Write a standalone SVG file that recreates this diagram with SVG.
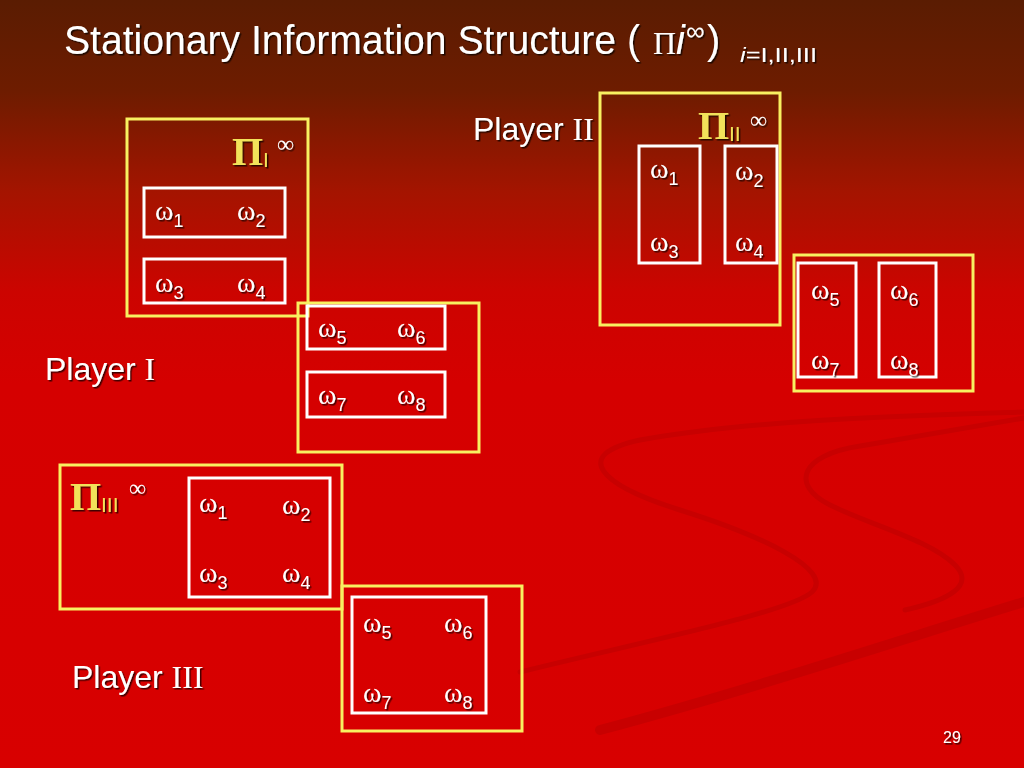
<svg xmlns="http://www.w3.org/2000/svg" width="1024" height="768" viewBox="0 0 1024 768">
<defs>
<linearGradient id="bg" x1="0" y1="0" x2="0" y2="1">
<stop offset="0" stop-color="#5a1c02"/>
<stop offset="0.12" stop-color="#6e1c00"/>
<stop offset="0.25" stop-color="#a41400"/>
<stop offset="0.38" stop-color="#cc0400"/>
<stop offset="0.5" stop-color="#d50000"/>
<stop offset="1" stop-color="#d80000"/>
</linearGradient>
<filter id="sh" x="-20%" y="-20%" width="140%" height="160%">
<feDropShadow dx="1.5" dy="1.5" stdDeviation="0.6" flood-color="#000" flood-opacity="0.7"/>
</filter>
</defs>
<style>
.t{font-family:"Liberation Sans",Arial,sans-serif;fill:#fff;filter:url(#sh)}
.s{font-family:"Liberation Serif","Times New Roman",serif;fill:#fff;filter:url(#sh)}
.w{font-family:"Liberation Serif","Times New Roman",serif;font-size:28px;fill:#fff;filter:url(#sh)}
.d{font-family:"Liberation Sans",Arial,sans-serif;font-size:18px}
.pi{font-family:"Liberation Serif","Times New Roman",serif;font-size:40px;font-weight:bold;fill:#f2e25a;filter:url(#sh)}
.pis{font-family:"Liberation Sans",Arial,sans-serif;font-size:21px;fill:#f2e25a;filter:url(#sh)}
.inf{font-family:"Liberation Serif","Times New Roman",serif;font-size:24px;fill:#fff;filter:url(#sh)}
.y{fill:none;stroke:#f8f060;stroke-width:3}
.wb{fill:none;stroke:#ffffff;stroke-width:3}
.sw{fill:none;stroke:#c80000;stroke-linecap:round}
</style>
<rect x="0" y="0" width="1024" height="768" fill="url(#bg)"/>
<g id="swirl">
<path class="sw" stroke-width="5" d="M 520 672 C 650 640 790 612 812 592 C 835 570 760 535 680 510 C 600 485 570 455 640 440 C 750 420 900 416 1024 412"/>
<path class="sw" stroke-width="5" d="M 905 610 C 950 600 975 585 955 565 C 930 540 870 525 830 505 C 790 485 800 455 860 446 C 920 436 980 425 1024 418"/>
<path class="sw" stroke="#c00000" stroke-width="10" d="M 600 730 C 750 690 900 640 1024 602"/>
</g>
<g id="title">
<text class="t" x="64" y="54" font-size="40" textLength="576" lengthAdjust="spacingAndGlyphs">Stationary Information Structure (</text>
<text class="s" x="653" y="54" font-size="32">Π</text>
<text class="t" x="676" y="54" font-size="40" font-style="italic">i</text>
<text class="t" x="686" y="40" font-size="26">∞</text>
<text class="t" x="707" y="54" font-size="40">)</text>
<text class="t" x="740" y="62" font-size="20" textLength="77" lengthAdjust="spacingAndGlyphs"><tspan font-style="italic">i</tspan>=I,II,III</text>
</g>
<g id="connectors"/>
<g id="player1">
<text class="t" x="45" y="380" font-size="32">Player <tspan font-family="Liberation Serif, Times New Roman, serif">I</tspan></text>
<g id="p1-partition1">
<rect class="y" x="127" y="119" width="181" height="197"/>
<text class="pi" x="232" y="165">Π</text>
<text class="pis" x="263" y="167">I</text>
<text class="inf" x="277" y="152">∞</text>
<g id="p1-cell12">
<rect class="wb" x="144" y="188" width="141" height="49"/>
<text class="w" x="155" y="220">ω<tspan class="d" dy="7">1</tspan></text>
<text class="w" x="237" y="220">ω<tspan class="d" dy="7">2</tspan></text>
</g>
<g id="p1-cell34">
<rect class="wb" x="144" y="259" width="141" height="44"/>
<text class="w" x="155" y="292">ω<tspan class="d" dy="7">3</tspan></text>
<text class="w" x="237" y="292">ω<tspan class="d" dy="7">4</tspan></text>
</g>
</g>
<g id="p1-partition2">
<rect class="y" x="298" y="303" width="181" height="149"/>
<g id="p1-cell56">
<rect class="wb" x="307" y="306" width="138" height="43"/>
<text class="w" x="318" y="337">ω<tspan class="d" dy="7">5</tspan></text>
<text class="w" x="397" y="337">ω<tspan class="d" dy="7">6</tspan></text>
</g>
<g id="p1-cell78">
<rect class="wb" x="307" y="372" width="138" height="45"/>
<text class="w" x="318" y="404">ω<tspan class="d" dy="7">7</tspan></text>
<text class="w" x="397" y="404">ω<tspan class="d" dy="7">8</tspan></text>
</g>
</g>
</g>
<g id="player2">
<text class="t" x="473" y="140" font-size="32">Player <tspan font-family="Liberation Serif, Times New Roman, serif">II</tspan></text>
<g id="p2-partition1">
<rect class="y" x="600" y="93" width="180" height="232"/>
<text class="pi" x="698" y="139">Π</text>
<text class="pis" x="729" y="141">II</text>
<text class="inf" x="750" y="128">∞</text>
<g id="p2-cell13">
<rect class="wb" x="639" y="146" width="61" height="117"/>
<text class="w" x="650" y="178">ω<tspan class="d" dy="7">1</tspan></text>
<text class="w" x="650" y="251">ω<tspan class="d" dy="7">3</tspan></text>
</g>
<g id="p2-cell24">
<rect class="wb" x="725" y="146" width="52" height="117"/>
<text class="w" x="735" y="180">ω<tspan class="d" dy="7">2</tspan></text>
<text class="w" x="735" y="251">ω<tspan class="d" dy="7">4</tspan></text>
</g>
</g>
<g id="p2-partition2">
<rect class="y" x="794" y="255" width="179" height="136"/>
<g id="p2-cell57">
<rect class="wb" x="798" y="263" width="58" height="114"/>
<text class="w" x="811" y="299">ω<tspan class="d" dy="7">5</tspan></text>
<text class="w" x="811" y="369">ω<tspan class="d" dy="7">7</tspan></text>
</g>
<g id="p2-cell68">
<rect class="wb" x="879" y="263" width="57" height="114"/>
<text class="w" x="890" y="299">ω<tspan class="d" dy="7">6</tspan></text>
<text class="w" x="890" y="369">ω<tspan class="d" dy="7">8</tspan></text>
</g>
</g>
</g>
<g id="player3">
<text class="t" x="72" y="688" font-size="32">Player <tspan font-family="Liberation Serif, Times New Roman, serif">III</tspan></text>
<g id="p3-partition1">
<rect class="y" x="60" y="465" width="282" height="144"/>
<text class="pi" x="70" y="510">Π</text>
<text class="pis" x="101" y="512">III</text>
<text class="inf" x="129" y="496">∞</text>
<g id="p3-cell1234">
<rect class="wb" x="189" y="478" width="141" height="119"/>
<text class="w" x="199" y="512">ω<tspan class="d" dy="7">1</tspan></text>
<text class="w" x="282" y="514">ω<tspan class="d" dy="7">2</tspan></text>
<text class="w" x="199" y="582">ω<tspan class="d" dy="7">3</tspan></text>
<text class="w" x="282" y="582">ω<tspan class="d" dy="7">4</tspan></text>
</g>
</g>
<g id="p3-partition2">
<rect class="y" x="342" y="586" width="180" height="145"/>
<g id="p3-cell5678">
<rect class="wb" x="352" y="597" width="134" height="116"/>
<text class="w" x="363" y="632">ω<tspan class="d" dy="7">5</tspan></text>
<text class="w" x="444" y="632">ω<tspan class="d" dy="7">6</tspan></text>
<text class="w" x="363" y="702">ω<tspan class="d" dy="7">7</tspan></text>
<text class="w" x="444" y="702">ω<tspan class="d" dy="7">8</tspan></text>
</g>
</g>
</g>
<text class="t" x="943" y="743" font-size="16">29</text>
</svg>
